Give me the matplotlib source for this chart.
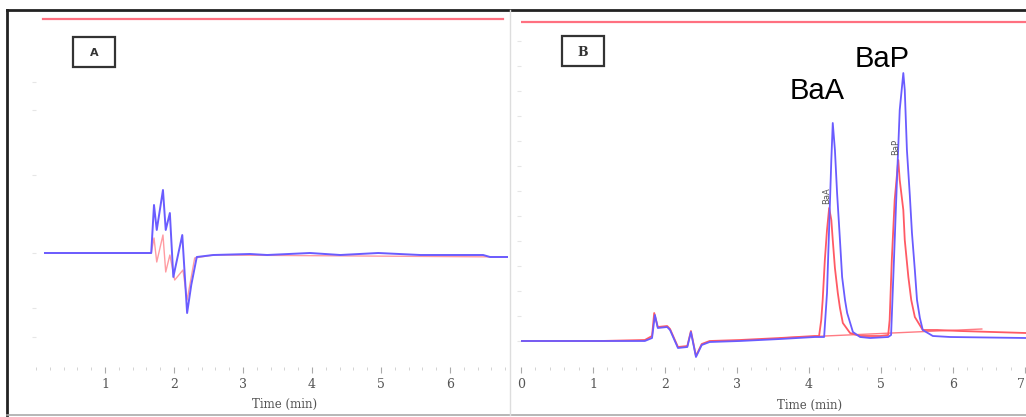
import matplotlib
matplotlib.use("Agg")
import matplotlib.pyplot as plt
from matplotlib.patches import Rectangle
from matplotlib.lines import Line2D

# panel A (blank) traces, time in min, signal in arbitrary units
a_blue_t = [0.13, 0.93, 1.67, 1.71, 1.75, 1.84, 1.88, 1.94, 1.99, 2.12, 2.19, 2.25, 2.33,
            2.57, 3.10, 3.35, 3.97, 4.41, 4.96, 5.57, 6.48, 6.58, 6.84]
a_blue_s = [0, 0, 0, 48, 23, 63, 23, 40, -24, 18, -60, -32, -4,
            -2, -1, -2, 0, -2, 0, -2, -2, -4, -4]
a_red_t = [0.13, 1.67, 1.71, 1.75, 1.84, 1.88, 1.94, 2.01, 2.13, 2.19, 2.30, 2.57, 6.84]
a_red_s = [0, 0, 15, -9, 18, -19, -2, -27, -17, -47, -5, -2, -4]
a_top_t = [0.10, 6.77]
a_top_s = [234, 234]

# panel B (spiked sample) traces
b_blue_t = [0.0, 1.10, 1.72, 1.82, 1.86, 1.90, 2.03, 2.07, 2.18, 2.31, 2.36, 2.43, 2.51, 2.62,
            3.04, 3.60, 4.08, 4.21, 4.25, 4.28, 4.31, 4.33, 4.36, 4.39, 4.43, 4.46, 4.50,
            4.53, 4.61, 4.71, 4.85, 5.10, 5.14, 5.18, 5.22, 5.26, 5.31, 5.33, 5.36, 5.40,
            5.43, 5.47, 5.50, 5.54, 5.58, 5.72, 5.96, 7.01]
b_blue_s = [0, 0, 0, 3, 26, 13, 14, 11, -7, -6, 9, -16, -4, -1,
            0, 2, 4, 4, 48, 114, 181, 218, 191, 148, 101, 64, 41,
            28, 9, 4, 3, 4, 6, 81, 158, 231, 268, 251, 191, 146,
            108, 71, 41, 23, 11, 5, 4, 3]
b_red_t = [0.0, 1.10, 1.72, 1.82, 1.85, 1.90, 2.03, 2.07, 2.18, 2.31, 2.36, 2.43, 2.51, 2.62,
           3.04, 3.60, 4.08, 4.14, 4.17, 4.19, 4.22, 4.25, 4.28, 4.31, 4.33, 4.36, 4.40,
           4.43, 4.47, 4.57, 4.71, 4.99, 5.10, 5.12, 5.15, 5.19, 5.24, 5.26, 5.31, 5.33,
           5.38, 5.42, 5.47, 5.58, 5.78, 6.10, 7.01]
b_red_s = [0, 0, 1, 5, 28, 14, 15, 12, -6, -5, 10, -15, -3, 0,
           1, 3, 5, 5, 21, 41, 81, 111, 133, 121, 101, 73, 48,
           33, 18, 8, 5, 5, 6, 21, 81, 141, 181, 161, 131, 101,
           64, 41, 24, 11, 11, 10, 8]
b_base_t = [3.6, 6.4]
b_base_s = [3, 12]
b_top_t = [0.0, 7.01]
b_top_s = [319, 319]

peak_names = ["BaA", "BaP"]
peak_label_t = [4.11, 5.01]
peak_label_s = [250, 282]
small_label_t = [4.24, 5.21]
small_label_s = [145, 194]

blue = "#6a5cff"
red = "#ff5a64"
pink = "#ff7080"

W, H = 1026, 417
fig = plt.figure(figsize=(W / 100, H / 100), dpi=100)


def px(x0, y0, x1, y1):
    return [x0 / W, 1 - y1 / H, (x1 - x0) / W, (y1 - y0) / H]


axA = fig.add_axes(px(36, 10, 508, 367))
axB = fig.add_axes(px(521, 10, 1026, 367))

axA.plot(a_top_t, a_top_s, color=pink, lw=1.6)
axA.plot(a_red_t, a_red_s, color=red, lw=1.0, alpha=0.6)
axA.plot(a_blue_t, a_blue_s, color=blue, lw=1.4)
axA.set_xticks([1, 2, 3, 4, 5, 6])
axA.set_yticks([-84, -55, 0, 78, 143, 171])

axB.plot(b_top_t, b_top_s, color=pink, lw=1.6)
axB.plot(b_base_t, b_base_s, color=red, lw=1.0, alpha=0.8)
axB.plot(b_red_t, b_red_s, color=red, lw=1.3)
axB.plot(b_blue_t, b_blue_s, color=blue, lw=1.3)
axB.set_xticks([0, 1, 2, 3, 4, 5, 6, 7])
axB.set_yticks(range(0, 320, 25))

for ax in (axA, axB):
    for sp in ax.spines.values():
        sp.set_visible(False)
    ax.patch.set_alpha(0)
    ax.set_xticks([i * 0.2 for i in range(36)], minor=True)
    ax.tick_params(axis="x", which="major", length=4, color="#aaaaaa", labelsize=9,
                   labelcolor="#555555", pad=4)
    ax.tick_params(axis="x", which="minor", length=2, color="#cccccc")
    ax.tick_params(axis="y", length=3, color="#e6e6e6", labelleft=False)
    for lab in ax.get_xticklabels():
        lab.set_family("DejaVu Serif")

# limits last, so the tick lists do not widen them
axA.set_xlim(0, 472 / 69)
axA.set_ylim(-114, 243)
axB.set_xlim(0, 505 / 72)
axB.set_ylim(-26, 331)
axB.get_xticklabels()[-1].set_ha("right")

for name, t, s in zip(peak_names, peak_label_t, peak_label_s):
    axB.text(t, s, name, fontsize=21, family="Liberation Sans", ha="center", va="center")
for name, t, s in zip(peak_names, small_label_t, small_label_s):
    axB.text(t, s, name, fontsize=6, color="#555555", rotation=90, ha="center", va="center")

# x axis titles
fig.text(285 / W, 1 - 404 / H, "Time (min)", fontsize=8.5, color="#555555",
         family="DejaVu Serif", ha="center", va="center")
fig.text(810 / W, 1 - 405 / H, "Time (min)", fontsize=8.5, color="#555555",
         family="DejaVu Serif", ha="center", va="center")

# panel tags
fig.add_artist(Rectangle((73 / W, 1 - 67 / H), 42 / W, 30 / H, transform=fig.transFigure,
                         fill=False, ec="#333333", lw=1.6))
fig.text(94 / W, 1 - 53 / H, "A", fontsize=8, weight="bold", color="#333333",
         ha="center", va="center")
fig.add_artist(Rectangle((562 / W, 1 - 66 / H), 42 / W, 30 / H, transform=fig.transFigure,
                         fill=False, ec="#333333", lw=1.6))
fig.text(583 / W, 1 - 52 / H, "B", fontsize=9, weight="bold", color="#333333",
         family="DejaVu Serif", ha="center", va="center")

# outer frame of the scanned figure
fig.add_artist(Line2D([7 / W, 7 / W], [1 - 415 / H, 1 - 10 / H], color="#222222", lw=2.0))
fig.add_artist(Line2D([7 / W, 1], [1 - 10 / H, 1 - 10 / H], color="#222222", lw=2.0))
fig.add_artist(Line2D([7 / W, 1], [1 - 415 / H, 1 - 415 / H], color="#aaaaaa", lw=1.2))
fig.add_artist(Line2D([510 / W, 510 / W], [1 - 415 / H, 1 - 10 / H], color="#dddddd", lw=1.0))

fig.savefig("out.png", dpi=100)
